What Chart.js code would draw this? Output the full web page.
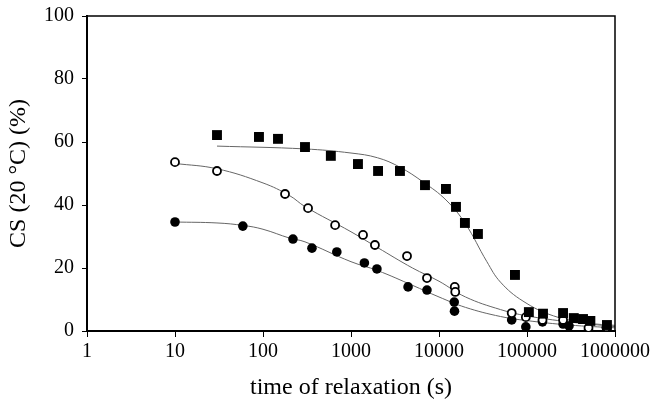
<!DOCTYPE html>
<html>
<head>
<meta charset="utf-8">
<script src="https://cdn.jsdelivr.net/npm/chart.js@4.4.1/dist/chart.umd.min.js"></script>
<style>
  html, body { margin: 0; padding: 0; background: #fff; }
  #wrap { width: 652px; height: 406px; }
</style>
</head>
<body>
<div id="wrap"><canvas id="myChart"></canvas></div>
<script>
// measured points (time in s, CS in %)
let squareX = [30, 90, 148, 300, 590, 1200, 2030, 3600, 6930, 12000, 15600, 19700, 27700, 73000, 105000, 152000, 257000, 340000, 433000, 525000, 810000];
let squareY = [62.2, 61.6, 61, 58.4, 55.6, 53, 50.8, 50.8, 46.3, 45.1, 39.4, 34.3, 30.8, 17.8, 6.0, 5.5, 5.7, 4.1, 3.8, 3.2, 1.9];

let openX = [10, 30, 178, 325, 660, 1370, 1870, 4330, 7300, 15100, 15300, 67000, 97000, 150000, 257000, 500000, 800000];
let openY = [53.6, 50.8, 43.5, 39, 33.6, 30.5, 27.3, 23.8, 16.8, 14, 12.4, 5.7, 4.4, 3.5, 3.5, 1.0, 1.2];

let filledX = [10, 59, 219, 360, 690, 1420, 1970, 4450, 7300, 14900, 15000, 67000, 97000, 150000, 257000, 300000, 500000, 800000];
let filledY = [34.6, 33.3, 29.2, 26.3, 25.1, 21.6, 19.7, 14, 13, 9.2, 6.3, 3.5, 1.3, 2.9, 2.2, 1.6, 0.2, 1.0];

// fitted curves
let squareFitX = [30, 300, 1000, 2000, 3600, 6600, 12000, 20000, 35000, 50000, 90000, 200000, 500000, 1000000];
let squareFitY = [58.7, 57.8, 56.5, 55, 52, 47.3, 41.6, 34, 22, 15.5, 9.5, 4.8, 2.5, 1.8];

let openFitX = [10, 30, 100, 200, 300, 1000, 2000, 5000, 10000, 20000, 50000, 100000, 300000, 1000000];
let openFitY = [53.2, 51.5, 47, 43, 39.5, 31.5, 26.5, 20, 15.8, 10.8, 6.8, 4.8, 2.9, 1.4];

let filledFitX = [10, 30, 60, 100, 200, 300, 1000, 2000, 5000, 10000, 20000, 50000, 100000, 300000, 1000000];
let filledFitY = [34.6, 34.3, 33.5, 32.3, 29.5, 28.3, 22, 19.2, 14.5, 10.8, 7.5, 4.6, 3.3, 1.9, 1.0];

let xTicks = [1, 10, 100, 1000, 10000, 100000, 1000000];
let yTicks = [0, 20, 40, 60, 80, 100];

function pts(xs, ys) {
    return xs.map((x, i) => ({x: x, y: ys[i]}));
}

function fitLine(xs, ys) {
    return {
        data: pts(xs, ys),
        showLine: true,
        pointRadius: 0,
        borderColor: '#666',
        borderWidth: 1,
        tension: 0.4,
        fill: false,
        order: 2
    };
}

// box round the plot area
const frame = {
    id: 'frame',
    afterDraw(chart) {
        const a = chart.chartArea;
        const c = chart.ctx;
        c.save();
        c.strokeStyle = '#000';
        c.lineWidth = 1.5;
        c.beginPath();
        c.moveTo(a.left, a.top);
        c.lineTo(a.right, a.top);
        c.lineTo(a.right, a.bottom);
        c.stroke();
        c.restore();
    }
};

Chart.defaults.font.family = '"Liberation Serif", "Times New Roman", serif';
Chart.defaults.color = '#000';

var ctx = document.getElementById('myChart').getContext('2d');
var chart = new Chart(ctx, {
    type: 'scatter',
    data: {
        datasets: [
            fitLine(squareFitX, squareFitY),
            fitLine(openFitX, openFitY),
            fitLine(filledFitX, filledFitY),
            {
                data: pts(squareX, squareY),
                pointStyle: 'rect',
                pointRadius: 7,
                backgroundColor: '#000',
                borderColor: '#000',
                borderWidth: 0,
                order: 1
            },
            {
                data: pts(openX, openY),
                pointStyle: 'circle',
                pointRadius: 4,
                backgroundColor: '#fff',
                borderColor: '#000',
                borderWidth: 1.8,
                order: 1
            },
            {
                data: pts(filledX, filledY),
                pointStyle: 'circle',
                pointRadius: 4.8,
                backgroundColor: '#000',
                borderColor: '#000',
                borderWidth: 0,
                order: 1
            }
        ]
    },
    options: {
        responsive: true,
        maintainAspectRatio: false,
        animation: false,
        layout: { padding: { top: 16, right: 37, left: 0, bottom: 0 } },
        plugins: {
            legend: { display: false },
            tooltip: { enabled: false }
        },
        scales: {
            x: {
                type: 'logarithmic',
                min: 1,
                max: 1000000,
                afterBuildTicks: s => { s.ticks = xTicks.map(v => ({value: v})); },
                afterFit: s => { s.height = 75; s.paddingRight = 0; },
                ticks: {
                    font: { size: 20 },
                    padding: 3,
                    maxRotation: 0,
                    autoSkip: false,
                    callback: v => String(v)
                },
                grid: { drawOnChartArea: false, drawTicks: true, tickLength: 6, color: '#000' },
                border: { display: true, color: '#000', width: 2 },
                title: {
                    display: true,
                    text: 'time of relaxation (s)',
                    font: { size: 24 },
                    padding: { top: 0 }
                }
            },
            y: {
                min: 0,
                max: 100,
                afterBuildTicks: s => { s.ticks = yTicks.map(v => ({value: v})); },
                afterFit: s => { s.width = 87; s.paddingTop = 0; s.paddingBottom = 0; },
                ticks: {
                    font: { size: 20 },
                    padding: 8
                },
                grid: { drawOnChartArea: false, drawTicks: true, tickLength: 5, color: '#000' },
                border: { display: true, color: '#000', width: 2 },
                title: {
                    display: true,
                    text: 'CS (20 °C) (%)',
                    font: { size: 24 },
                    padding: { bottom: 2 }
                }
            }
        }
    },
    plugins: [frame]
});
</script>
</body>
</html>
